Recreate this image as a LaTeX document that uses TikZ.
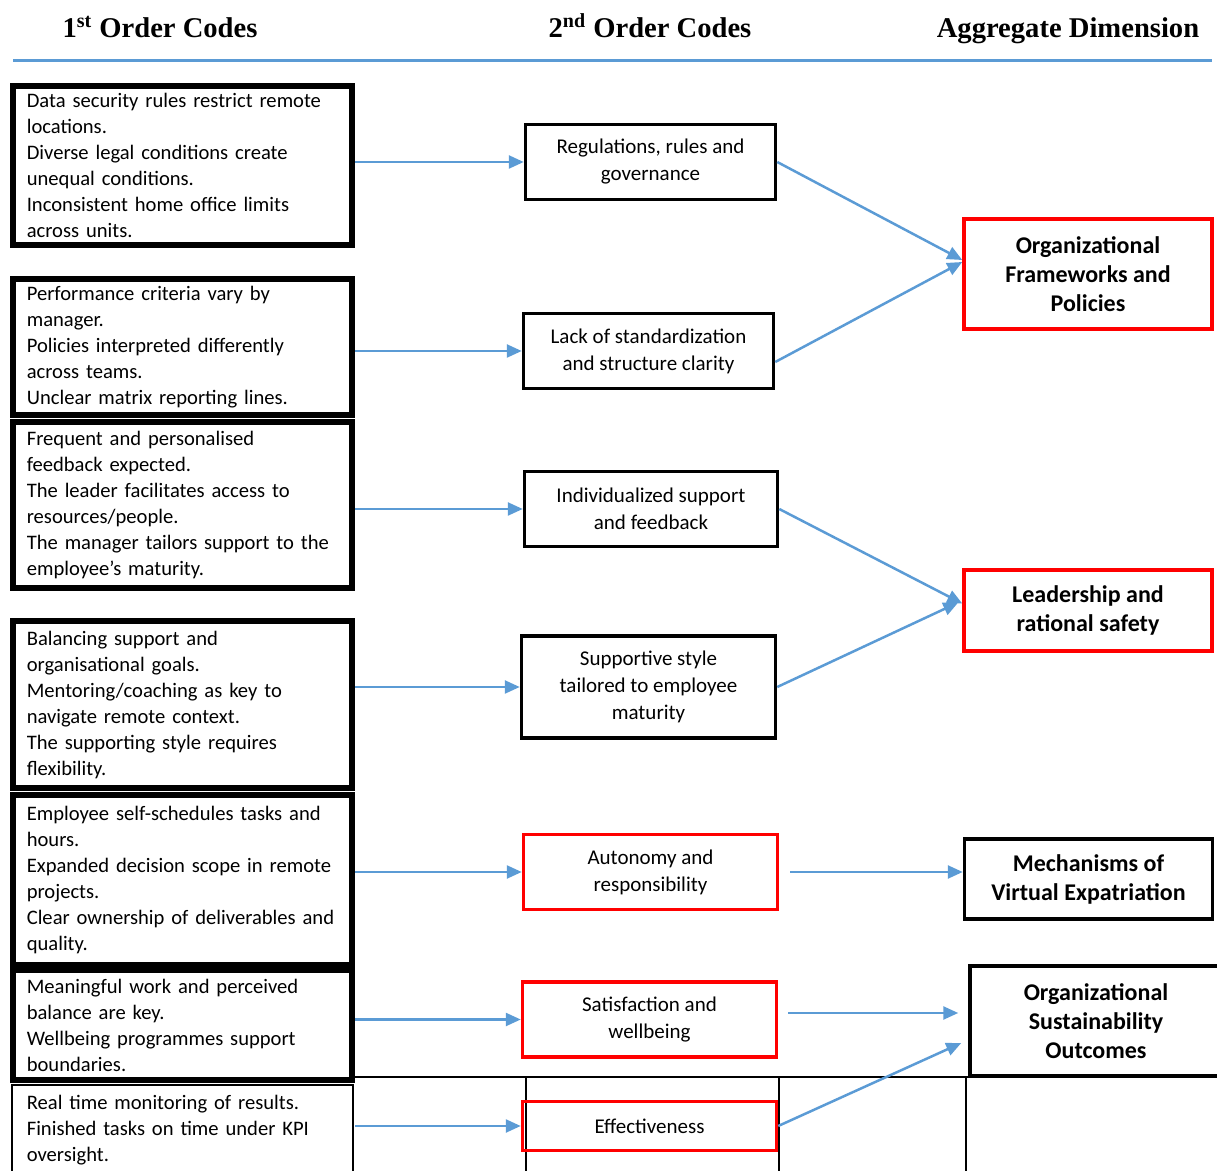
\documentclass[tikz,border=0pt]{standalone}
\usepackage{fontspec}
\setmainfont{Carlito}
\newfontfamily\headfont{Liberation Serif}
\usetikzlibrary{arrows.meta}
\definecolor{linkblue}{HTML}{5B9BD5}
\definecolor{boxred}{HTML}{FF0000}
\tikzset{
  head/.style={anchor=base, font=\headfont\bfseries\fontsize{14.3}{17}\selectfont},
  codebox/.style={draw, line width=3pt, minimum width=169.5pt, text width=155.7pt,
    inner xsep=6.9pt, align=left, font=\fontsize{10.3}{13}\selectfont},
  catbox/.style={draw, line width=1.75pt, minimum width=125pt, minimum height=37.5pt,
    align=center, font=\fontsize{10.5}{13.5}\selectfont},
  dimbox/.style={draw, line width=1.75pt, minimum width=124pt, align=center,
    font=\bfseries\fontsize{12}{14.5}\selectfont},
  tbl/.style={line width=0.75pt},
  link/.style={linkblue, line width=1.25pt, -{Triangle[length=7.5pt,width=6.5pt]}}
}
\begin{document}
\begin{tikzpicture}[x=0.5pt,y=-0.5pt]
  \useasboundingbox (0,0) rectangle (1217,1171);
  \clip (0,0) rectangle (1217,1171);
  % headings
  \node[head] (h1) at (160,38) {1\textsuperscript{st} Order Codes};
  \node[head] (h2) at (650,38) {2\textsuperscript{nd} Order Codes};
  \node[head] (h3) at (1068,38) {Aggregate Dimension};
  \draw[linkblue, line width=1.5pt] (13,61) -- (1212,61);
  % table lines at the bottom
  \draw[tbl] (353,1077) -- (1217,1077);
  \draw[tbl] (12,1180) |- (353,1085) -- (353,1180);
  \draw[tbl] (526,1077) -- (526,1180);
  \draw[tbl] (779,1077) -- (779,1180);
  \draw[tbl] (966,1077) -- (966,1180);
  % 1st order codes
  \node[codebox, minimum height=79.5pt] (L1) at (182.5,165.5) {Data security rules restrict remote\\
    locations.\\ Diverse legal conditions create\\ unequal conditions.\\
    Inconsistent home office limits\\ across units.};
  \node[codebox, minimum height=66pt] (L2) at (182.5,347) {Performance criteria vary by\\
    manager.\\ Policies interpreted differently\\ across teams.\\ Unclear matrix reporting lines.};
  \node[codebox, minimum height=83pt] (L3) at (182.5,505) {Frequent and personalised\\
    feedback expected.\\ The leader facilitates access to\\ resources/people.\\
    The manager tailors support to the\\ employee's maturity.};
  \node[codebox, minimum height=83.5pt] (L4) at (182.5,705) {Balancing support and\\
    organisational goals.\\ Mentoring/coaching as key to\\ navigate remote context.\\
    The supporting style requires\\ flexibility.};
  \node[codebox, minimum height=85pt] (L5) at (182.5,880) {Employee self-schedules tasks and\\
    hours.\\ Expanded decision scope in remote\\ projects.\\
    Clear ownership of deliverables and\\ quality.};
  \node[codebox, minimum height=55pt] (L6) at (182.5,1025) {Meaningful work and perceived\\
    balance are key.\\ Wellbeing programmes support\\ boundaries.};
  \node[codebox, draw=none] (L7) at (182.5,1130) {Real time monitoring of results.\\
    Finished tasks on time under KPI\\ oversight.};
  % 2nd order codes
  \node[catbox] (M1) at (650.5,162) {Regulations, rules and\\ governance};
  \node[catbox] (M2) at (648.5,351) {Lack of standardization\\ and structure clarity};
  \node[catbox, minimum width=126.5pt] (M3) at (651,509) {Individualized support\\ and feedback};
  \node[catbox, minimum width=127pt, minimum height=51pt] (M4) at (648.5,687) {Supportive style\\
    tailored to employee\\ maturity};
  \node[catbox, draw=boxred, minimum width=127pt] (M5) at (650.5,872) {Autonomy and\\ responsibility};
  \node[catbox, draw=boxred, minimum width=127pt] (M6) at (649.5,1019.5) {Satisfaction and\\ wellbeing};
  \node[catbox, draw=boxred, minimum width=127pt, minimum height=24.5pt] (M7) at (649.5,1126) {Effectiveness};
  % aggregate dimensions
  \node[dimbox, draw=boxred, minimum height=55pt] (R1) at (1088,274) {Organizational\\
    Frameworks and\\ Policies};
  \node[dimbox, draw=boxred, minimum height=40.5pt] (R2) at (1088,610.5) {Leadership and\\
    rational safety};
  \node[dimbox, minimum height=40pt] (R3) at (1088.5,879) {Mechanisms of\\ Virtual Expatriation};
  \node[dimbox, minimum width=126pt, minimum height=55pt] (R4) at (1096,1021) {Organizational\\
    Sustainability\\ Outcomes};
  \coordinate (s6) at ([yshift=3.25pt]M6.east);
  \begin{scope}[link]
    \draw (L1.east |- M1.west) -- (M1.west);
    \draw (L2.east |- M2.west) -- (M2.west);
    \draw (L3.east |- M3.west) -- (M3.west);
    \draw (L4.east |- M4.west) -- (M4.west);
    \draw (L5.east |- M5.west) -- (M5.west);
    \draw (L6.east |- M6.west) -- (M6.west);
    \draw (L7.east |- M7.west) -- (M7.west);
    \draw (M1.east) -- ([yshift=7pt]R1.west);
    \draw ([yshift=-5.5pt]M2.east) -- ([yshift=6pt]R1.west);
    \draw (M3.east) -- ([yshift=3.5pt]R2.west);
    \draw (M4.east) -- ([xshift=-2pt,yshift=4pt]R2.west);
    \draw[shorten <=5.5pt] (M5.east) -- (M5.east -| R3.west);
    \draw[shorten <=5pt, shorten >=5pt] (s6) -- (s6 -| R4.west);
    \draw (M7.east) -- ([xshift=-3.5pt,yshift=-11pt]R4.west);
  \end{scope}
\end{tikzpicture}
\end{document}
